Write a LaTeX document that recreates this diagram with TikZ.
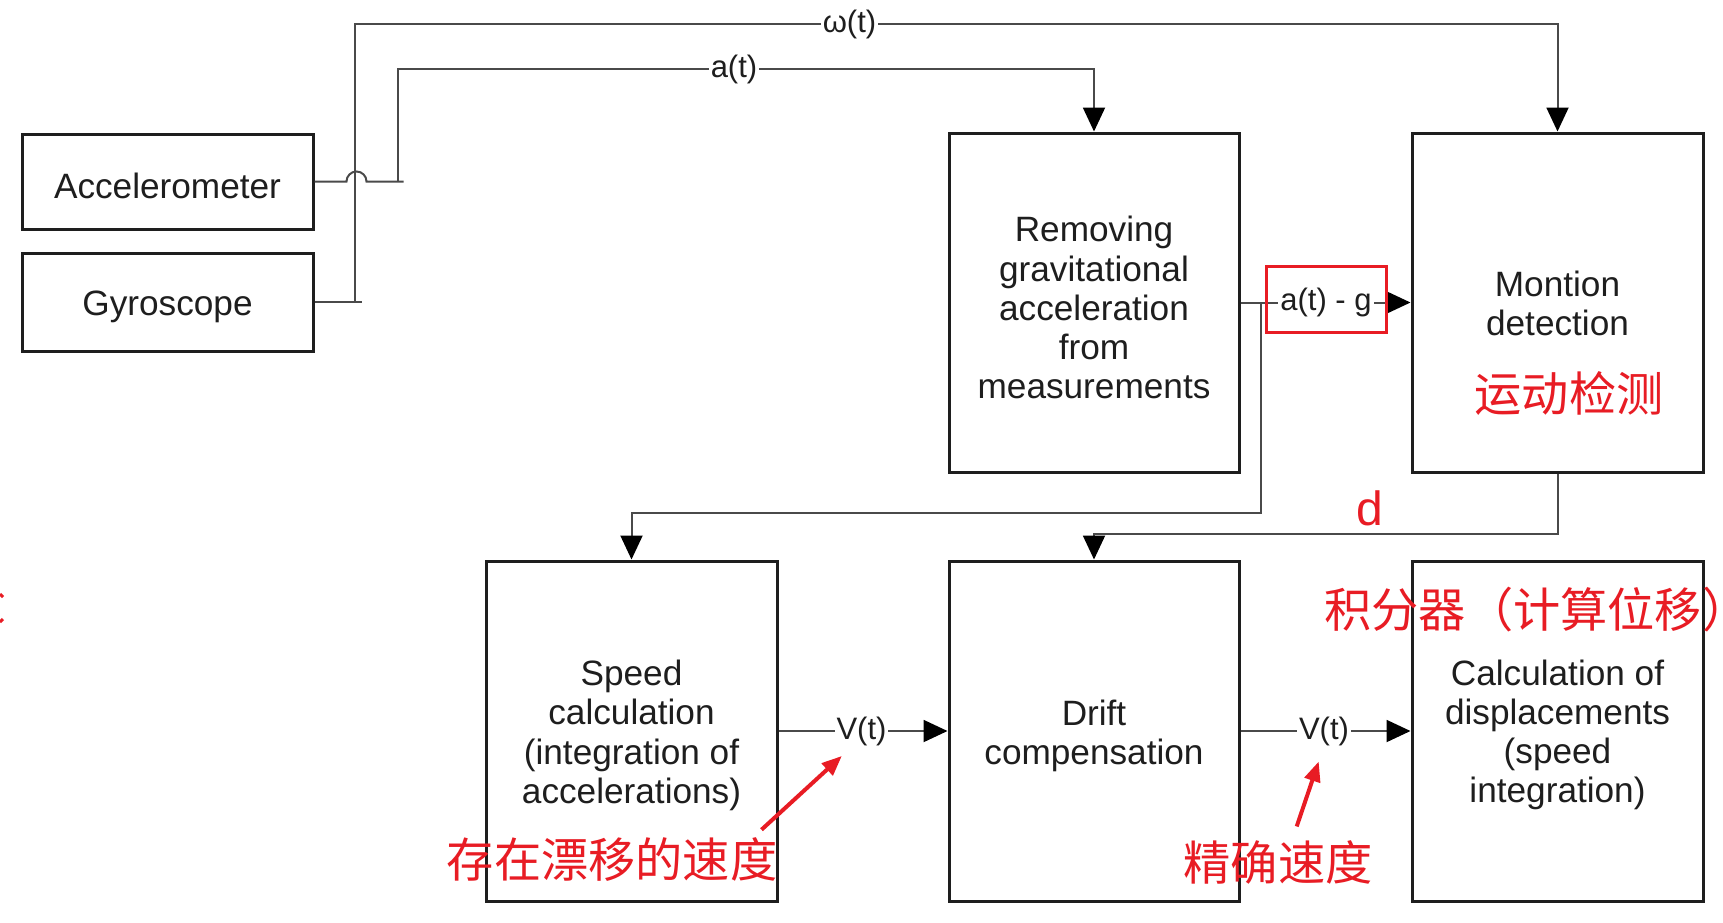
\documentclass[tikz,border=0pt]{standalone}
\usepackage{fontspec}
\setmainfont{Liberation Sans}
\newfontfamily\cjk{Noto Sans CJK SC}
\usetikzlibrary{arrows.meta}
\definecolor{ink}{HTML}{1E1E1E}
\definecolor{wirec}{HTML}{4A4A4A}
\definecolor{markc}{RGB}{232,28,36}
\begin{document}
\begin{tikzpicture}[x=0.5pt,y=-0.5pt,
  blk/.style={draw=ink, line width=1.5pt, fill=white, inner sep=0pt},
  txt/.style={align=center, text=ink, inner sep=0pt, font=\fontsize{17.6}{19.6}\selectfont},
  wire/.style={draw=wirec, line width=1pt},
  arr/.style={wire, -{Triangle[length=12pt,width=11pt,color=black]}},
  lab/.style={fill=white, inner sep=1pt, text=ink, font=\fontsize{15.5}{17}\selectfont},
  note/.style={text=markc, font=\cjk\fontsize{23.6}{26}\selectfont, inner sep=0pt},
  redarr/.style={draw=markc, line width=2pt, -{Triangle[length=10pt,width=8pt]}}]
\path[use as bounding box] (0,0) rectangle (1723,922);
\clip (0,0) rectangle (1723,922);

% blocks
\node[blk, minimum width=145.5pt, minimum height=47.5pt] (acc) at (167.5,181.5) {};
\node[blk, minimum width=145.5pt, minimum height=49pt] (gyr) at (167.5,302) {};
\node[blk, minimum width=145pt, minimum height=169.5pt] (rem) at (1094,302.5) {};
\node[blk, minimum width=145.5pt, minimum height=169.5pt] (mon) at (1557.5,302.5) {};
\node[blk, minimum width=145.5pt, minimum height=170pt] (spd) at (631.5,731) {};
\node[blk, minimum width=145pt, minimum height=170pt] (dri) at (1094,731) {};
\node[blk, minimum width=145.5pt, minimum height=170pt] (cal) at (1557.5,731) {};

% block texts
\node[txt] (acc-t) at ([yshift=-2.2pt]acc.center) {Accelerometer};
\node[txt] (gyr-t) at ([yshift=-2.2pt]gyr.center) {Gyroscope};
\node[txt] (rem-t) at ([yshift=-2.6pt]rem.center) {Removing\\gravitational\\acceleration\\from\\measurements};
\node[txt] (mon-t) at ([yshift=-0.3pt]mon.center) {Montion\\detection};
\node[txt] (spd-t) at ([yshift=-2.2pt]spd.center) {Speed\\calculation\\(integration of\\accelerations)};
\node[txt] (dri-t) at ([yshift=-2.4pt]dri.center) {Drift\\compensation};
\node[txt] (cal-t) at ([yshift=-2.0pt]cal.center) {Calculation of\\displacements\\(speed\\integration)};

% helper coordinates
\coordinate (wj) at (355,302);
\coordinate (wend) at (362,302);
\coordinate (wtop) at (1557.5,24);
\coordinate (aj) at (398,181.5);
\coordinate (atop) at (1094,69);
\coordinate (br) at (1261,302.5);
\coordinate (sb) at (631.5,513);
\coordinate (db) at (1094,534);

% connectors
\draw[wire] (gyr.east) -- (wend);
\draw[arr] (wj) |- (wtop) -- (mon.north);
\draw[wire] (acc.east) -- ++(32,0) arc (180:360:10) -- ++(37,0);
\draw[arr] (aj) |- (atop) -- (rem.north);
\draw[arr] (rem.east) -- (mon.west);
\draw[arr] (br) |- (sb) -- (spd.north);
\draw[arr] (mon.south) |- (db) -- (dri.north);
\draw[arr] (spd.east) -- (dri.west);
\draw[arr] (dri.east) -- (cal.west);

% connector labels
\node[lab] (lw) at (849.5,24) {ω(t)};
\node[lab] (la) at (734,69) {a(t)};
\node[lab] (lg) at (1326,302) {a(t) - g};
\node[lab] (lv1) at (861.5,731) {V(t)};
\node[lab] (lv2) at (1324,731) {V(t)};
\node[draw=markc, line width=1.5pt, minimum width=60pt, minimum height=33pt, inner sep=0pt] (gbox) at (1326,299) {};

% red annotations
\node[note] (n3) at (1569,393) {运动检测};
\node[text=markc, inner sep=0pt, font=\fontsize{24}{26}\selectfont] (nd) at (1370,508) {d};
\node[note, anchor=west] (n4) at (1324,610) {积分器（计算位移）};
\node[note] (n1) at (612,860) {存在漂移的速度};
\node[note] (n2) at (1278,862) {精确速度};
\coordinate (r1a) at (761.5,829.7);
\coordinate (r1b) at (841.8,756);
\coordinate (r2a) at (1296.7,826.4);
\coordinate (r2b) at (1318.7,761.5);
\draw[redarr] (r1a) -- (r1b);
\draw[redarr] (r2a) -- (r2b);
\draw[draw=markc, line width=1.5pt] (0,594) -- (3,597);
\draw[draw=markc, line width=1.5pt] (0,622) -- (3,619);
\end{tikzpicture}
\end{document}
